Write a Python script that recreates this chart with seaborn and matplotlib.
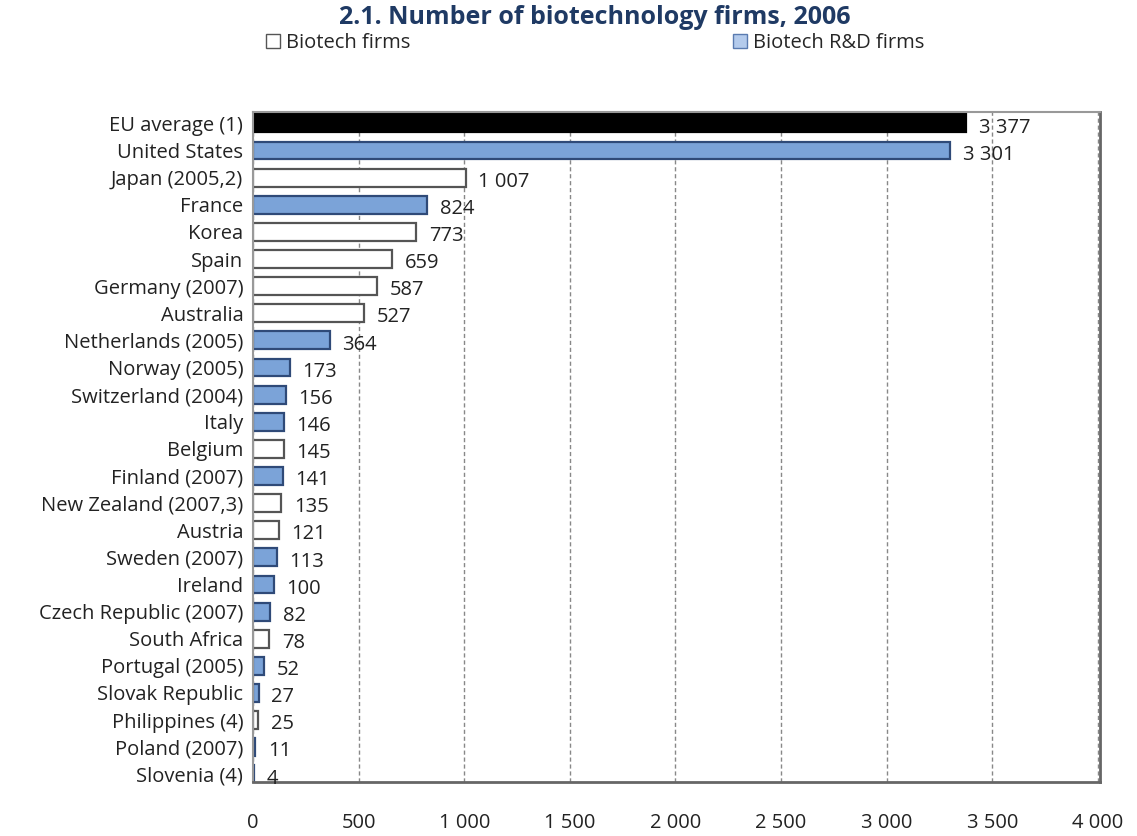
import matplotlib
matplotlib.use("Agg")
import matplotlib.pyplot as plt
import seaborn as sns
import pandas as pd
from matplotlib.patches import Patch

countries = ["EU average (1)", "United States", "Japan (2005,2)", "France", "Korea", "Spain",
             "Germany (2007)", "Australia", "Netherlands (2005)", "Norway (2005)",
             "Switzerland (2004)", "Italy", "Belgium", "Finland (2007)", "New Zealand (2007,3)",
             "Austria", "Sweden (2007)", "Ireland", "Czech Republic (2007)", "South Africa",
             "Portugal (2005)", "Slovak Republic", "Philippines (4)", "Poland (2007)", "Slovenia (4)"]
values = [3377, 3301, 1007, 824, 773, 659, 587, 527, 364, 173, 156, 146, 145, 141, 135,
          121, 113, 100, 82, 78, 52, 27, 25, 11, 4]
value_labels = ["3 377", "3 301", "1 007", "824", "773", "659", "587", "527", "364", "173",
                "156", "146", "145", "141", "135", "121", "113", "100", "82", "78", "52",
                "27", "25", "11", "4"]
firm_type = ["EU", "R&D", "All", "R&D", "All", "All", "All", "All", "R&D", "R&D", "R&D", "R&D",
             "All", "R&D", "All", "All", "R&D", "R&D", "R&D", "All", "R&D", "R&D", "All",
             "R&D", "R&D"]
legend_labels = ["Biotech firms", "Biotech R&D firms"]
x_ticks = [0, 500, 1000, 1500, 2000, 2500, 3000, 3500, 4000]
x_tick_labels = ["0", "500", "1 000", "1 500", "2 000", "2 500", "3 000", "3 500", "4 000"]
title = "2.1. Number of biotechnology firms, 2006"

sns.set_theme(style="white")
plt.rcParams["font.family"] = ["Open Sans", "DejaVu Sans"]

FS = 14.5
fills = {"EU": "#000000", "R&D": "#7BA3D8", "All": "#FFFFFF"}
edges = {"EU": "#000000", "R&D": "#2F4A78", "All": "#555555"}

df = pd.DataFrame({"country": countries, "value": values, "type": firm_type})

fig = plt.figure(figsize=(11.37, 8.36), dpi=100)
ax = fig.add_axes([0.2225, 0.064, 0.745, 0.802])

sns.barplot(data=df, x="value", y="country", hue="type", palette=fills, dodge=False,
            width=0.66, ax=ax, legend=False, saturation=1)

for p in ax.patches:
    yc = p.get_y() + p.get_height() / 2
    idx = int(round(yc))
    if 0 <= idx < len(countries) and p.get_width() > 0:
        p.set_edgecolor(edges[firm_type[idx]])
        p.set_linewidth(1.6)

for i, (v, lab) in enumerate(zip(values, value_labels)):
    ax.annotate(lab, xy=(v, i), xytext=(9, -3), textcoords="offset points",
                va="center", ha="left", fontsize=FS, color="#222222")

ax.set_xlim(0, 4010)
ax.set_ylim(len(countries) - 0.7, -0.42)
ax.set_xticks(x_ticks)
ax.set_xticklabels(x_tick_labels, fontsize=FS, color="#222222")
ax.tick_params(axis="x", length=0, pad=22)
ax.tick_params(axis="y", length=0, pad=7, labelsize=FS, labelcolor="#222222")
ax.set_xlabel("")
ax.set_ylabel("")
ax.xaxis.grid(True, linestyle=(0, (3, 2)), color="#888888", linewidth=1)
ax.set_axisbelow(True)
for side in ["top", "left"]:
    ax.spines[side].set_color("#999999")
    ax.spines[side].set_linewidth(1.5)
for side in ["right", "bottom"]:
    ax.spines[side].set_color("#666666")
    ax.spines[side].set_linewidth(2)

fig.text(0.523, 0.979, title, ha="center", va="center", fontsize=18, fontweight="bold",
         color="#1F3A64")

handles = [Patch(facecolor="#FFFFFF", edgecolor="#555555", label=legend_labels[0]),
           Patch(facecolor="#B4CBEC", edgecolor="#5A7BB0", label=legend_labels[1])]
fig.legend(handles=handles, loc="center left", bbox_to_anchor=(0.218, 0.948), ncol=2,
           frameon=False, fontsize=FS, handlelength=0.7, handleheight=0.7,
           handletextpad=0.3, columnspacing=16)

fig.savefig("out.png", dpi=100)
